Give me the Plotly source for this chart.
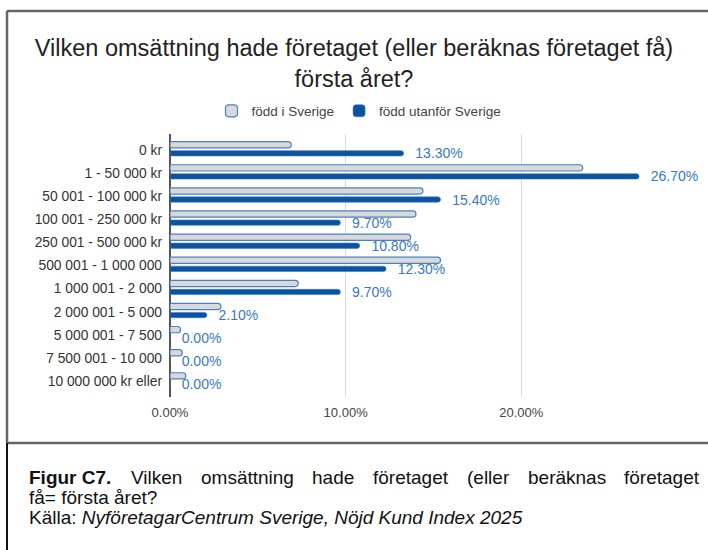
import plotly.graph_objects as go

# Colours
COLOR_GREY_BAR = "#d9d9d9"
COLOR_OUTLINE = "#4a80c4"
COLOR_BLUE = "#0b539f"
COLOR_LABEL = "#3a78c2"
COLOR_TEXT = "#333333"
COLOR_GRID = "#d9d9d9"
FONT = "Liberation Sans, Arial, sans-serif"

W, H = 708, 550
M_L, M_R, M_T, M_B = 170, 11, 134, 153

categories = [
    "0 kr",
    "1 - 50 000 kr",
    "50 001 - 100 000 kr",
    "100 001 - 250 000 kr",
    "250 001 - 500 000 kr",
    "500 001 - 1 000 000",
    "1 000 001 - 2 000",
    "2 000 001 - 5 000",
    "5 000 001 - 7 500",
    "7 500 001 - 10 000",
    "10 000 000 kr eller",
]
born_sweden = [6.9, 23.5, 14.4, 14.0, 13.7, 15.4, 7.3, 2.9, 0.6, 0.7, 0.9]
born_abroad = [13.3, 26.7, 15.4, 9.7, 10.8, 12.3, 9.7, 2.1, 0.0, 0.0, 0.0]

x_ticks = [0, 10, 20, 30]
x_ticktext = ["0.00%", "10.00%", "20.00%", ""]


def px_x(x):
    return (x - M_L) / (W - M_L - M_R)


def px_y(y):
    return (H - M_B - y) / (H - M_T - M_B)


fig = go.Figure()

fig.add_trace(
    go.Bar(
        y=categories,
        x=born_sweden,
        orientation="h",
        name="född i Sverige",
        width=0.27,
        offset=-0.36,
        marker=dict(
            color=COLOR_GREY_BAR,
            line=dict(color=COLOR_OUTLINE, width=1.2),
            cornerradius=4,
        ),
        hoverinfo="x+y",
    )
)

fig.add_trace(
    go.Bar(
        y=categories,
        x=born_abroad,
        orientation="h",
        name="född utanför Sverige",
        width=0.23,
        offset=0.03,
        marker=dict(
            color=COLOR_BLUE,
            line=dict(color="#3f78bd", width=0.6),
            cornerradius=3,
        ),
        texttemplate="\u00a0\u00a0\u00a0%{x:.2f}%",
        textposition="outside",
        constraintext="none",
        textfont=dict(size=14, color=COLOR_LABEL, family=FONT),
        cliponaxis=False,
        hoverinfo="x+y",
    )
)

fig.update_layout(
    width=W,
    height=H,
    paper_bgcolor="white",
    plot_bgcolor="white",
    font=dict(family=FONT, color=COLOR_TEXT, size=12),
    margin=dict(l=M_L, r=M_R, t=M_T, b=M_B, autoexpand=False),
    barmode="group",
    showlegend=True,
    title=dict(
        text="Vilken omsättning hade företaget (eller beräknas företaget få)<br>första året?",
        x=0.5,
        xref="container",
        xanchor="center",
        y=1 - 56 / H,
        yref="container",
        yanchor="middle",
        font=dict(size=23.5, color="#222222", family=FONT),
    ),
    legend=dict(
        orientation="h",
        x=px_x(359),
        xanchor="center",
        y=px_y(111),
        yanchor="middle",
        font=dict(size=13.5, color="#444444"),
        itemwidth=30,
        bgcolor="rgba(0,0,0,0)",
    ),
    xaxis=dict(
        range=[0, 30],
        tickvals=x_ticks,
        ticktext=x_ticktext,
        showgrid=True,
        gridcolor=COLOR_GRID,
        gridwidth=1,
        zeroline=True,
        zerolinecolor="#555555",
        zerolinewidth=1.5,
        showline=False,
        tickfont=dict(size=13, color="#444444"),
        ticklabelstandoff=6,
        fixedrange=True,
    ),
    yaxis=dict(
        type="category",
        range=[10.69, -0.69],
        showgrid=False,
        zeroline=False,
        showline=False,
        tickfont=dict(size=13.8, color=COLOR_TEXT),
        ticklabelstandoff=7,
        fixedrange=True,
    ),
)

# Frame around the chart and the caption area
fig.add_shape(type="line", xref="paper", yref="paper",
              x0=px_x(7), x1=px_x(710), y0=px_y(11), y1=px_y(11),
              line=dict(color="#666666", width=2.5))
fig.add_shape(type="line", xref="paper", yref="paper",
              x0=px_x(7), x1=px_x(7), y0=px_y(11), y1=px_y(443),
              line=dict(color="#666666", width=2.5))
fig.add_shape(type="line", xref="paper", yref="paper",
              x0=px_x(7), x1=px_x(710), y0=px_y(443), y1=px_y(443),
              line=dict(color="#666666", width=2.5))
fig.add_shape(type="line", xref="paper", yref="paper",
              x0=px_x(7), x1=px_x(7), y0=px_y(443), y1=px_y(552),
              line=dict(color="#111111", width=2))

# Caption, first line justified word by word
CAP_SIZE = 19
caption_words = ["<b>Figur C7.</b>", "Vilken", "omsättning", "hade", "företaget",
                 "(eller", "beräknas", "företaget"]
caption_widths = [84, 52, 93, 43, 76, 43, 78, 76]
left, right = 27, 698
gap = (right - left - sum(caption_widths)) / (len(caption_words) - 1)
x = left
for word, w in zip(caption_words, caption_widths):
    fig.add_annotation(
        text=word, xref="paper", yref="paper", x=px_x(x), y=px_y(477),
        xanchor="left", yanchor="middle", showarrow=False,
        font=dict(size=CAP_SIZE, color="#111111", family=FONT),
    )
    x += w + gap

fig.add_annotation(
    text="få= första året?", xref="paper", yref="paper", x=px_x(27), y=px_y(497),
    xanchor="left", yanchor="middle", showarrow=False,
    font=dict(size=CAP_SIZE, color="#111111", family=FONT),
)
fig.add_annotation(
    text="Källa: <i>NyföretagarCentrum Sverige, Nöjd Kund Index 2025</i>",
    xref="paper", yref="paper", x=px_x(27), y=px_y(517),
    xanchor="left", yanchor="middle", showarrow=False,
    font=dict(size=CAP_SIZE, color="#111111", family=FONT),
)

fig.write_html(
    "out.html",
    config={"displayModeBar": False},
    post_script="document.body.style.margin='0';",
)
